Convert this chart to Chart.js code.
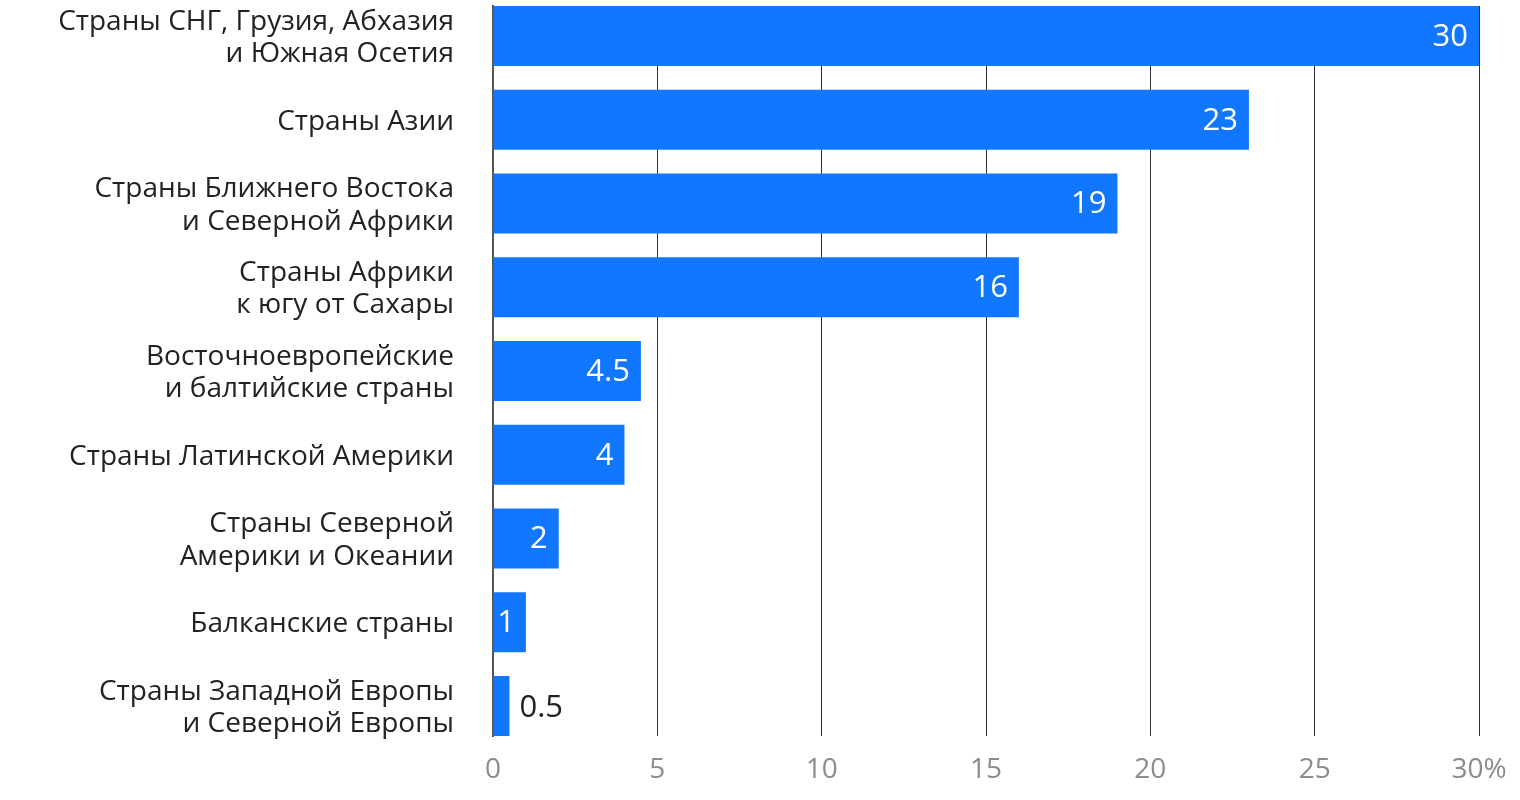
<!DOCTYPE html>
<html>
<head>
<meta charset="utf-8">
<script src="https://cdn.jsdelivr.net/npm/chart.js@4/dist/chart.umd.min.js"></script>
<style>
  html, body { margin: 0; padding: 0; background: #fff; }
  #wrap { width: 1520px; height: 800px; }
</style>
</head>
<body>
<div id="wrap"><canvas id="c" width="1520" height="800"></canvas></div>
<script>
const categories = [
  ["Страны СНГ, Грузия, Абхазия", "и Южная Осетия"],
  "Страны Азии",
  ["Страны Ближнего Востока", "и Северной Африки"],
  ["Страны Африки", "к югу от Сахары"],
  ["Восточноевропейские", "и балтийские страны"],
  "Страны Латинской Америки",
  ["Страны Северной", "Америки и Океании"],
  "Балканские страны",
  ["Страны Западной Европы", "и Северной Европы"]
];
const values = [30, 23, 19, 16, 4.5, 4, 2, 1, 0.5];
const xTicks = [0, 5, 10, 15, 20, 25, 30];
const xTickLabels = ["0", "5", "10", "15", "20", "25", "30%"];

const FONT = "'Open Sans', 'Noto Sans', sans-serif";
const BAR_COLOR = '#1177ff';

const valueLabels = {
  id: 'valueLabels',
  afterDatasetsDraw(chart) {
    const ctx = chart.ctx;
    const meta = chart.getDatasetMeta(0);
    ctx.save();
    ctx.font = "31px " + FONT;
    ctx.textBaseline = 'middle';
    meta.data.forEach((bar, i) => {
      const v = values[i];
      const txt = String(v);
      const w = ctx.measureText(txt).width;
      const inside = (bar.x - bar.base) > w + 14;
      if (inside) {
        ctx.fillStyle = '#ffffff';
        ctx.textAlign = 'right';
        ctx.fillText(txt, bar.x - 11, bar.y + 1);
      } else {
        ctx.fillStyle = '#222222';
        ctx.textAlign = 'left';
        ctx.fillText(txt, bar.x + 10, bar.y + 2);
      }
    });
    ctx.restore();
  }
};

const n = categories.length;
const BAR_FRAC = 0.7164;
const pad = BAR_FRAC / 2;

new Chart(document.getElementById('c'), {
  type: 'bar',
  data: {
    datasets: [{
      data: values.map((v, i) => ({ x: v, y: i })),
      backgroundColor: BAR_COLOR,
      borderWidth: 0,
      barPercentage: BAR_FRAC,
      categoryPercentage: 1
    }]
  },
  options: {
    indexAxis: 'y',
    responsive: false,
    animation: false,
    devicePixelRatio: 1,
    layout: { padding: { top: 6, right: 41, left: 0, bottom: 0 } },
    plugins: { legend: { display: false }, tooltip: { enabled: false } },
    scales: {
      x: {
        type: 'linear',
        min: 0,
        max: 30,
        afterBuildTicks(scale) { scale.ticks = xTicks.map(v => ({ value: v })); },
        afterFit(scale) { scale.height = 64; scale.paddingLeft = 0; scale.paddingRight = 0; },
        ticks: {
          padding: 17,
          color: '#8c8c8c',
          font: { family: FONT, size: 28 },
          maxRotation: 0,
          callback: (v) => xTickLabels[xTicks.indexOf(v)]
        },
        grid: { color: '#333333', lineWidth: 1, drawTicks: false },
        border: { display: false }
      },
      y: {
        type: 'linear',
        reverse: true,
        offset: false,
        min: -pad,
        max: (n - 1) + pad,
        afterBuildTicks(scale) { scale.ticks = categories.map((_, i) => ({ value: i })); },
        afterFit(scale) { scale.width = 493; scale.paddingTop = 0; scale.paddingBottom = 0; },
        ticks: {
          padding: 39,
          labelOffset: 2,
          color: '#222222',
          font: { family: FONT, size: 28, lineHeight: 1.15 },
          callback: (v) => categories[v]
        },
        grid: { display: true, offset: false, drawOnChartArea: false, drawTicks: false },
        border: { display: true, color: '#555555', width: 2 }
      }
    }
  },
  plugins: [valueLabels]
});
</script>
</body>
</html>
